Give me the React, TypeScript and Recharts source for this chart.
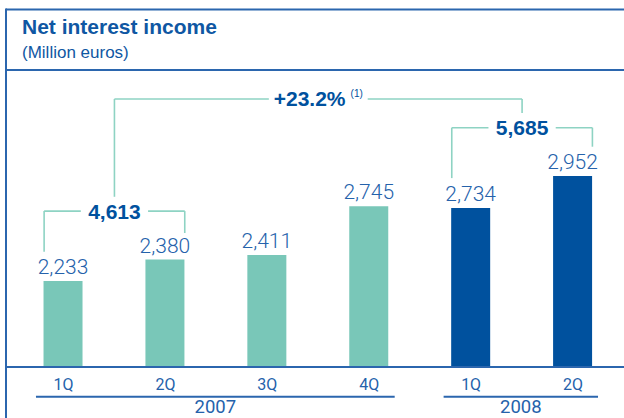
import {
  Bar,
  BarChart,
  Cell,
  LabelList,
  ReferenceDot,
  ReferenceLine,
  XAxis,
  YAxis,
} from "recharts"

const quarters = ["1Q", "2Q", "3Q", "4Q", "1Q", "2Q"]
const quarterYears = ["2007", "2007", "2007", "2007", "2008", "2008"]
const income = [2233, 2380, 2411, 2745, 2734, 2952]
const yearLabels = ["2007", "2008"]
const halfYearTotals = ["4,613", "5,685"]
const growthLabel = "+23.2%"
const growthNote = "(1)"

const data = income.map((value, i) => ({
  i,
  value,
  quarter: quarters[i],
  year: quarterYears[i],
}))

// layout
const W = 624
const H = 418
const X_DOMAIN: [number, number] = [-0.564, 5.5]
const Y_DOMAIN: [number, number] = [1644, 3610]
const HALF_BAR = 0.19
const UNDERLINE_Y = 1441

const FRAME = "#2b66ae"
const TITLE = "#0f57a3"
const LABEL = "#2562ab"
const TEAL = "#79c7b8"
const NAVY = "#00519e"
const BRACKET = "#8ed3c3"
const SANS = "'Liberation Sans', Arial, sans-serif"
const THIN = "Roboto, 'Liberation Sans', sans-serif"

const brackets = [
  { text: halfYearTotals[0], note: "", left: 0 - HALF_BAR, right: 1 + HALF_BAR, level: 2712, leftEnd: 2434, rightEnd: 2562, gap: 0.33 },
  { text: halfYearTotals[1], note: "", left: 4 - HALF_BAR, right: 5 + HALF_BAR, level: 3283, leftEnd: 2938, rightEnd: 3153, gap: 0.33 },
  { text: growthLabel, note: growthNote, left: 0.5, right: 4.5, level: 3480, leftEnd: 2810, rightEnd: 3384, gap: 0.485 },
]

const yearSpans = [
  { label: yearLabels[0], from: -0.27, to: 3.25 },
  { label: yearLabels[1], from: 3.73, to: 5.245 },
]

const QuarterTick = ({ x, y, payload }: any) => (
  <text x={x} y={y + 15} textAnchor="middle" fill={LABEL} fontFamily={THIN} fontSize={16}>
    {quarters[payload.value]}
  </text>
)

const YearTick = ({ x, y, payload }: any) => {
  const span = yearSpans.find((s) => Math.abs((s.from + s.to) / 2 - payload.value) < 0.1)
  return (
    <text x={x} y={y + 16} textAnchor="middle" fill={LABEL} fontFamily={THIN} fontSize={18.5}>
      {span ? span.label : ""}
    </text>
  )
}

const renderBracket = (b: (typeof brackets)[number], k: number) => {
  const mid = (b.left + b.right) / 2
  const line = { stroke: BRACKET, strokeWidth: 1.6, ifOverflow: "visible" as const }
  return [
    <ReferenceLine key={`l${k}`} {...line} segment={[{ x: b.left, y: b.leftEnd }, { x: b.left, y: b.level }]} />,
    <ReferenceLine key={`a${k}`} {...line} segment={[{ x: b.left, y: b.level }, { x: mid - b.gap, y: b.level }]} />,
    <ReferenceLine key={`b${k}`} {...line} segment={[{ x: mid + b.gap, y: b.level }, { x: b.right, y: b.level }]} />,
    <ReferenceLine key={`r${k}`} {...line} segment={[{ x: b.right, y: b.level }, { x: b.right, y: b.rightEnd }]} />,
    <ReferenceDot
      key={`t${k}`}
      x={mid}
      y={b.level}
      r={1}
      ifOverflow="visible"
      shape={(p: any) => (
        <text x={p.cx} y={p.cy + 7.5} textAnchor="middle" fill={NAVY} fontFamily={SANS} fontWeight="bold" fontSize={21}>
          <tspan>{b.text}</tspan>
          {b.note ? (
            <tspan dx={5} dy={-9} fontSize={10} fontWeight="normal">
              {b.note}
            </tspan>
          ) : null}
        </text>
      )}
    />,
  ]
}

export default function App() {
  return (
    <div style={{ position: "absolute", left: 0, top: 0, width: W, height: H, background: "#fff" }}>
      <svg width={W} height={H} style={{ position: "absolute", left: 0, top: 0 }}>
        <line x1={6} y1={9.5} x2={W} y2={9.5} stroke={FRAME} strokeWidth={2} />
        <line x1={6} y1={8.5} x2={6} y2={H} stroke={FRAME} strokeWidth={2} />
        <line x1={6} y1={70} x2={W} y2={70} stroke={FRAME} strokeWidth={2} />
        <text x={22} y={34} fill={TITLE} fontFamily={SANS} fontWeight="bold" fontSize={21}>
          Net interest income
        </text>
        <text x={22} y={58} fill={TITLE} fontFamily={SANS} fontSize={17}>
          (Million euros)
        </text>
      </svg>
      <div style={{ position: "absolute", left: 0, top: 0 }}>
        <BarChart width={W} height={H} data={data} margin={{ top: 80, right: 0, bottom: 0, left: 6 }}>
          <XAxis
            dataKey="i"
            type="number"
            domain={X_DOMAIN}
            ticks={[0, 1, 2, 3, 4, 5]}
            allowDataOverflow
            height={22}
            tickLine={false}
            axisLine={{ stroke: FRAME, strokeWidth: 2 }}
            tick={<QuarterTick />}
            interval={0}
          />
          <XAxis
            xAxisId="yr"
            dataKey="i"
            type="number"
            domain={X_DOMAIN}
            ticks={yearSpans.map((s) => (s.from + s.to) / 2)}
            allowDataOverflow
            height={29}
            tickLine={false}
            axisLine={false}
            tick={<YearTick />}
            interval={0}
          />
          <YAxis hide domain={Y_DOMAIN} allowDataOverflow />
          <Bar dataKey="value" barSize={39} isAnimationActive={false}>
            {data.map((d) => (
              <Cell key={d.i} fill={d.year === yearLabels[0] ? TEAL : NAVY} />
            ))}
            <LabelList
              dataKey="value"
              content={(p: any) => (
                <text
                  x={p.x + p.width / 2}
                  y={p.y - 7}
                  textAnchor="middle"
                  fill={LABEL}
                  fontFamily={THIN}
                  fontWeight={300}
                  fontSize={21}
                >
                  {Number(p.value).toLocaleString("en-US")}
                </text>
              )}
            />
          </Bar>
          {yearSpans.map((s, k) => (
            <ReferenceLine
              key={`u${k}`}
              segment={[{ x: s.from, y: UNDERLINE_Y }, { x: s.to, y: UNDERLINE_Y }]}
              stroke={FRAME}
              strokeWidth={2}
              ifOverflow="visible"
            />
          ))}
          {brackets.map(renderBracket)}
        </BarChart>
      </div>
    </div>
  )
}
